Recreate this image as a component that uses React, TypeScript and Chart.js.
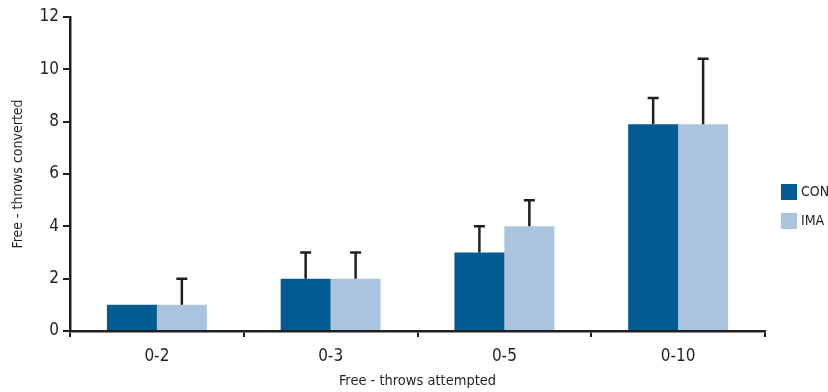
import React, { useEffect, useRef } from "react";
import { Chart, registerables } from "chart.js";

Chart.register(...registerables);

const categories = ["0-2", "0-3", "0-5", "0-10"];
const seriesNames = ["CON", "IMA"];
const conValues = [1, 2, 3, 7.9];
const imaValues = [1, 2, 4, 7.9];
const conErrors = [0, 1, 1, 1];
const imaErrors = [1, 1, 1, 2.5];
const yMin = 0;
const yMax = 12;
const yStep = 2;
const xTitle = "Free - throws attempted";
const yTitle = "Free - throws converted";

const FONT = "'DejaVu Sans Condensed', 'Liberation Sans Narrow', 'Roboto', sans-serif";
const INK = "#231f20";
const COLORS = ["#035c91", "#abc3dc"];

const errorBarPlugin = {
  id: "errorBars",
  afterDatasetsDraw(chart: any) {
    const ctx = chart.ctx;
    const yScale = chart.scales.y;
    ctx.save();
    ctx.strokeStyle = INK;
    ctx.lineWidth = 2.5;
    chart.data.datasets.forEach((ds: any, i: number) => {
      const meta = chart.getDatasetMeta(i);
      meta.data.forEach((el: any, j: number) => {
        const err = ds.errors[j];
        if (!err) return;
        const top = yScale.getPixelForValue(ds.data[j] + err);
        ctx.beginPath();
        ctx.moveTo(el.x, el.y);
        ctx.lineTo(el.x, top);
        ctx.moveTo(el.x - 5.5, top);
        ctx.lineTo(el.x + 5.5, top);
        ctx.stroke();
      });
    });
    ctx.restore();
  },
};

const legendPlugin = {
  id: "sideLegend",
  afterDraw(chart: any) {
    const ctx = chart.ctx;
    const area = chart.chartArea;
    ctx.save();
    ctx.font = `14px ${FONT}`;
    ctx.textBaseline = "middle";
    ctx.textAlign = "left";
    chart.data.datasets.forEach((ds: any, i: number) => {
      const x = area.right + 16;
      const y = area.top + 167 + i * 29;
      ctx.fillStyle = ds.backgroundColor;
      ctx.fillRect(x, y, 16, 16);
      ctx.fillStyle = INK;
      ctx.fillText(ds.label, x + 20, y + 8.5);
    });
    ctx.restore();
  },
};

export default function App() {
  const ref = useRef<HTMLCanvasElement>(null);
  useEffect(() => {
    const chart = new Chart(ref.current!, {
      type: "bar",
      data: {
        labels: categories,
        datasets: [
          { label: seriesNames[0], data: conValues, errors: conErrors, backgroundColor: COLORS[0] } as any,
          { label: seriesNames[1], data: imaValues, errors: imaErrors, backgroundColor: COLORS[1] } as any,
        ],
      },
      options: {
        animation: false,
        responsive: false,
        maintainAspectRatio: false,
        layout: { padding: { top: 17, right: 63, bottom: 0, left: 0 } },
        datasets: { bar: { categoryPercentage: 0.575, barPercentage: 1 } },
        plugins: { legend: { display: false }, tooltip: { enabled: false } },
        scales: {
          x: {
            grid: { offset: true, drawOnChartArea: false, drawTicks: true, tickLength: 6, color: INK, lineWidth: 2 },
            border: { color: INK, width: 2.5 },
            ticks: { color: INK, font: { family: FONT, size: 17 }, padding: 9 },
            title: { display: true, text: xTitle, color: INK, font: { family: FONT, size: 14.5 }, padding: { top: 0, bottom: 2 } },
            afterFit(scale: any) { scale.height = 61; },
          },
          y: {
            min: yMin,
            max: yMax,
            ticks: { stepSize: yStep, color: INK, font: { family: FONT, size: 17 }, padding: 4 },
            grid: { drawOnChartArea: false, drawTicks: true, tickLength: 7, color: INK, lineWidth: 2 },
            border: { color: INK, width: 2.5 },
            title: { display: true, text: yTitle, color: INK, font: { family: FONT, size: 14 }, padding: { top: 10, bottom: 0 } },
            afterFit(scale: any) { scale.width = 70; },
          },
        },
      },
      plugins: [errorBarPlugin, legendPlugin],
    });
    return () => chart.destroy();
  }, []);
  return (
    <div style={{ position: "fixed", left: 0, top: 0, width: 828, height: 392, background: "#fff" }}>
      <canvas ref={ref} width={828} height={392} style={{ width: 828, height: 392 }} />
    </div>
  );
}
